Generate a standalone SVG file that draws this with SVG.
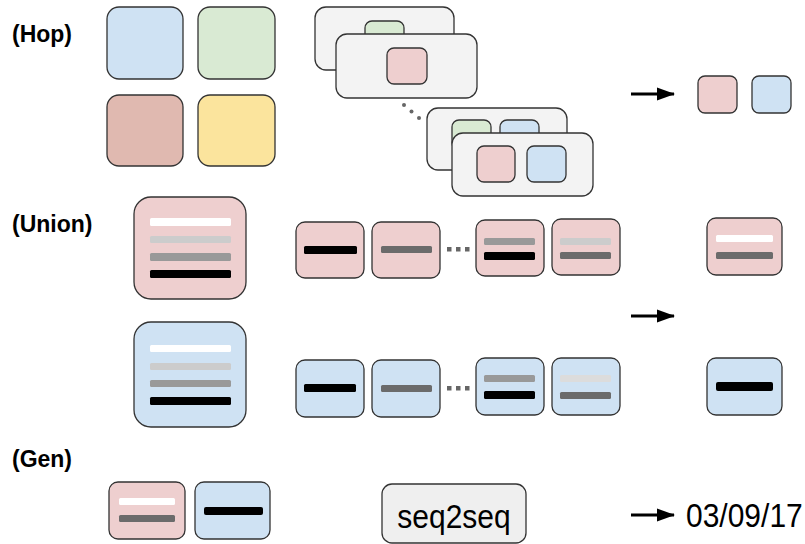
<svg xmlns="http://www.w3.org/2000/svg" width="805" height="544" viewBox="0 0 805 544">
<style>
.lbl{font-family:"Liberation Sans",Arial,sans-serif;font-weight:bold;font-size:23px;fill:#000}
.txt{font-family:"Liberation Sans",Arial,sans-serif;font-size:30px;fill:#000}
.b{stroke:#333;stroke-width:1.3}
.blue{fill:#cfe2f3}.green{fill:#d9ead3}.rose{fill:#e0b9b0}.yel{fill:#fbe49d}.pink{fill:#eecfcf}.card{fill:#f3f3f3}
.w{fill:#fff}.l{fill:#cccccc}.ll{fill:#dcdcdc}.m{fill:#999}.d{fill:#6b6b6b}.k{fill:#000}
.dot{fill:#666}
.arr{stroke:#000;stroke-width:2.8;fill:none}
</style>
<defs>
<marker id="ah" viewBox="0 0 18 14" refX="17" refY="7" markerWidth="18" markerHeight="14" markerUnits="userSpaceOnUse" orient="auto">
<path d="M0,0.5 L18,7 L0,13.5 z" fill="#000"/>
</marker>
</defs>
<rect width="805" height="544" fill="#fff"/>
<g id="labels">
<text class="lbl" x="12" y="42" transform="translate(0,42) scale(1,1.06) translate(0,-42)">(Hop)</text>
<text class="lbl" x="12" y="232" transform="translate(0,232) scale(1,1.06) translate(0,-232)">(Union)</text>
<text class="lbl" x="12" y="467" transform="translate(0,467) scale(1,1.06) translate(0,-467)">(Gen)</text>
</g>
<g id="hop-sources">
<rect class="b blue" x="107" y="7" width="76" height="72" rx="12"/>
<rect class="b green" x="198" y="7" width="77" height="72" rx="12"/>
<rect class="b rose" x="107" y="95" width="76" height="71" rx="12"/>
<rect class="b yel" x="198" y="95" width="77" height="71" rx="12"/>
</g>
<g id="hop-stack-1">
<rect class="b card" x="315" y="7" width="139" height="63" rx="11"/>
<rect class="b green" x="365" y="21" width="39" height="30" rx="7"/>
<rect class="b card" x="336" y="34" width="141" height="64" rx="11"/>
<rect class="b pink" x="387" y="48" width="40" height="36" rx="7"/>
</g>
<g id="hop-stack-2">
<rect class="b card" x="427" y="108" width="140" height="62" rx="11"/>
<rect class="b green" x="452" y="120" width="39" height="30" rx="7"/>
<rect class="b blue" x="500" y="120" width="39" height="30" rx="7"/>
<rect class="b card" x="452" y="133" width="141" height="63" rx="11"/>
<rect class="b pink" x="477" y="146" width="38" height="36" rx="7"/>
<rect class="b blue" x="527" y="146" width="39" height="36" rx="7"/>
</g>
<g id="hop-result">
<rect class="b pink" x="698" y="76" width="39" height="37" rx="7"/>
<rect class="b blue" x="752" y="76" width="39" height="37" rx="7"/>
</g>
<g id="union-pink-source">
<rect class="b pink" x="134" y="197" width="112" height="102" rx="17"/>
<rect class="w" x="150" y="218" width="81" height="8" rx="1.5"/>
<rect class="l" x="150" y="236" width="81" height="7" rx="1.5"/>
<rect class="m" x="150" y="253" width="81" height="8" rx="1.5"/>
<rect class="k" x="150" y="270" width="81" height="8" rx="1.5"/>
</g>
<g id="union-pink-seq">
<rect class="b pink" x="296" y="222" width="68" height="56" rx="9"/>
<rect class="k" x="304" y="246" width="53" height="8" rx="1.5"/>
<rect class="b pink" x="372" y="222" width="68" height="56" rx="9"/>
<rect class="d" x="381" y="246" width="51" height="7" rx="1.5"/>
<rect class="b pink" x="476" y="220" width="68" height="56" rx="9"/>
<rect class="m" x="484" y="238" width="51" height="7" rx="1.5"/>
<rect class="k" x="484" y="252" width="51" height="8" rx="1.5"/>
<rect class="b pink" x="552" y="219" width="68" height="56" rx="9"/>
<rect class="l" x="560" y="238" width="51" height="7" rx="1.5"/>
<rect class="d" x="560" y="252" width="51" height="7" rx="1.5"/>
</g>
<g id="union-blue-source">
<rect class="b blue" x="134" y="322" width="112" height="105" rx="17"/>
<rect class="w" x="150" y="345" width="81" height="7" rx="1.5"/>
<rect class="l" x="150" y="363" width="81" height="7" rx="1.5"/>
<rect class="m" x="150" y="380" width="81" height="7" rx="1.5"/>
<rect class="k" x="150" y="397" width="81" height="8" rx="1.5"/>
</g>
<g id="union-blue-seq">
<rect class="b blue" x="296" y="360" width="68" height="57" rx="9"/>
<rect class="k" x="304" y="384" width="52" height="8" rx="1.5"/>
<rect class="b blue" x="372" y="360" width="68" height="57" rx="9"/>
<rect class="d" x="381" y="385" width="51" height="7" rx="1.5"/>
<rect class="b blue" x="476" y="358" width="68" height="57" rx="9"/>
<rect class="m" x="484" y="375" width="51" height="7" rx="1.5"/>
<rect class="k" x="484" y="391" width="51" height="8" rx="1.5"/>
<rect class="b blue" x="552" y="358" width="68" height="57" rx="9"/>
<rect class="ll" x="560" y="375" width="51" height="7" rx="1.5"/>
<rect class="d" x="560" y="392" width="51" height="7" rx="1.5"/>
</g>
<g id="union-results">
<rect class="b pink" x="707" y="218" width="75" height="57" rx="9"/>
<rect class="w" x="716" y="235" width="57" height="7" rx="1.5"/>
<rect class="d" x="716" y="252" width="57" height="7" rx="1.5"/>
<rect class="b blue" x="707" y="358" width="75" height="57" rx="9"/>
<rect class="k" x="716" y="382" width="57" height="9" rx="2"/>
</g>
<g id="gen-inputs">
<rect class="b pink" x="109" y="482" width="76" height="57" rx="9"/>
<rect class="w" x="119" y="498" width="56" height="7" rx="1.5"/>
<rect class="d" x="119" y="515" width="56" height="7" rx="1.5"/>
<rect class="b blue" x="195" y="482" width="75" height="57" rx="9"/>
<rect class="k" x="204" y="507" width="59" height="8" rx="2"/>
</g>
<g id="seq2seq">
<rect class="b" fill="#efefef" x="382" y="484" width="144" height="59" rx="10"/>
<text class="txt" x="454" y="528" text-anchor="middle" font-size="29" transform="translate(0,528) scale(1,1.12) translate(0,-528)">seq2seq</text>
</g>
<g id="gen-output">
<text class="txt" x="686" y="527" transform="translate(0,527) scale(1,1.12) translate(0,-527)">03/09/17</text>
</g>
<g id="connectors">
<circle class="dot" cx="404" cy="105" r="2"/>
<circle class="dot" cx="411.5" cy="111.5" r="2"/>
<circle class="dot" cx="419" cy="118" r="2"/>
<rect class="dot" x="447" y="247" width="4.5" height="4.5"/>
<rect class="dot" x="456" y="247" width="4.5" height="4.5"/>
<rect class="dot" x="465" y="247" width="4.5" height="4.5"/>
<rect class="dot" x="447" y="386" width="4.5" height="4.5"/>
<rect class="dot" x="456" y="386" width="4.5" height="4.5"/>
<rect class="dot" x="465" y="386" width="4.5" height="4.5"/>
<line class="arr" x1="631" y1="94" x2="674" y2="94" marker-end="url(#ah)"/>
<line class="arr" x1="631" y1="316" x2="674" y2="316" marker-end="url(#ah)"/>
<line class="arr" x1="631" y1="515" x2="674" y2="515" marker-end="url(#ah)"/>
</g>
</svg>
